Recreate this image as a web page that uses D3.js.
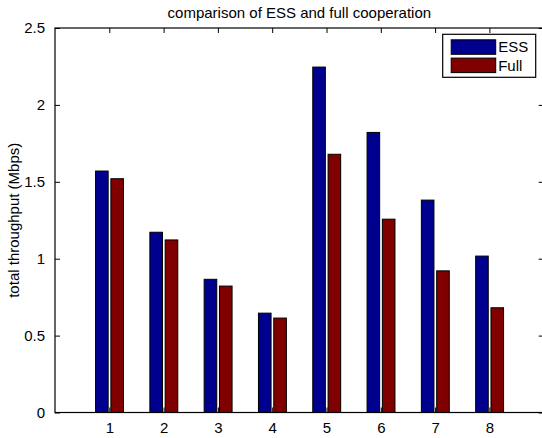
<!DOCTYPE html>
<html>
<head>
<meta charset="utf-8">
<script src="https://cdn.jsdelivr.net/npm/d3@7"></script>
<style>
  body { margin: 0; background: #fff; }
  svg { display: block; font-family: "Liberation Sans", Arial, Helvetica, sans-serif; }
</style>
</head>
<body>
<svg id="chart"></svg>
<script>
const categories = [1, 2, 3, 4, 5, 6, 7, 8];
const essValues = [1.57, 1.172, 0.866, 0.646, 2.246, 1.821, 1.381, 1.017];
const fullValues = [1.52, 1.122, 0.822, 0.614, 1.679, 1.257, 0.921, 0.681];
const yTicks = [0, 0.5, 1, 1.5, 2, 2.5];
const seriesNames = ['ESS', 'Full'];
const seriesColors = ['#00008f', '#800000'];

const WIDTH = 542;
const HEIGHT = 438;
const LEFT = 55;
const RIGHT = 543.7;
const TOP = 28;
const BOTTOM = 412.5;
const TICK = 5;
const BAR_W = 0.232;
const BAR_OFFSETS = [-0.253, 0.029];
const FONT = 15;

const svg = d3.select('#chart')
    .attr('width', WIDTH)
    .attr('height', HEIGHT);

const x = d3.scaleLinear().domain([0, 9]).range([LEFT, RIGHT]);
const y = d3.scaleLinear().domain([0, 2.5]).range([BOTTOM, TOP]);

// bars
const series = [essValues, fullValues];
series.forEach((values, s) => {
    svg.append('g')
        .selectAll('rect')
        .data(values)
        .join('rect')
        .attr('x', (d, i) => x(categories[i] + BAR_OFFSETS[s]))
        .attr('y', d => y(d))
        .attr('width', x(BAR_W) - x(0))
        .attr('height', d => y(0) - y(d))
        .attr('fill', seriesColors[s])
        .attr('stroke', '#000')
        .attr('stroke-width', 1);
});

// axes, ticks pointing inward like matlab
function styleAxis(g) {
    g.select('.domain').remove();
    g.selectAll('.tick line').attr('stroke', '#000');
    g.selectAll('.tick text')
        .attr('fill', '#000')
        .style('font-size', FONT + 'px');
}

svg.append('g')
    .attr('transform', `translate(0,${BOTTOM})`)
    .call(d3.axisBottom(x).tickValues(categories).tickSize(-TICK).tickPadding(10)
        .tickFormat(d3.format('d')))
    .call(styleAxis);

svg.append('g')
    .attr('transform', `translate(0,${TOP})`)
    .call(d3.axisTop(x).tickValues(categories).tickSize(-TICK).tickFormat(''))
    .call(styleAxis);

svg.append('g')
    .attr('transform', `translate(${LEFT},0)`)
    .call(d3.axisLeft(y).tickValues(yTicks).tickSize(-TICK).tickPadding(10)
        .tickFormat(d => String(d)))
    .call(styleAxis);

svg.append('g')
    .attr('transform', `translate(${RIGHT},0)`)
    .call(d3.axisRight(y).tickValues(yTicks).tickSize(-TICK).tickFormat(''))
    .call(styleAxis);

// box
svg.append('rect')
    .attr('x', LEFT)
    .attr('y', TOP)
    .attr('width', RIGHT - LEFT)
    .attr('height', BOTTOM - TOP)
    .attr('fill', 'none')
    .attr('stroke', '#000')
    .attr('stroke-width', 1.2);

// title
svg.append('text')
    .attr('x', (LEFT + RIGHT) / 2)
    .attr('y', 18)
    .attr('text-anchor', 'middle')
    .style('font-size', FONT + 'px')
    .text('comparison of ESS and full cooperation');

// y label
svg.append('text')
    .attr('transform', `translate(19,${(TOP + BOTTOM) / 2}) rotate(-90)`)
    .attr('text-anchor', 'middle')
    .style('font-size', FONT + 'px')
    .text('total throughput (Mbps)');

// legend
const legend = svg.append('g').attr('transform', 'translate(442.7,34.3)');
legend.append('rect')
    .attr('width', 93)
    .attr('height', 43)
    .attr('fill', '#fff')
    .attr('stroke', '#000')
    .attr('stroke-width', 1.2);

seriesNames.forEach((name, i) => {
    const row = legend.append('g').attr('transform', `translate(8.5,${5.5 + i * 18.3})`);
    row.append('rect')
        .attr('width', 44.5)
        .attr('height', 14.5)
        .attr('fill', seriesColors[i])
        .attr('stroke', '#000');
    row.append('text')
        .attr('x', 47)
        .attr('y', 12.5)
        .style('font-size', FONT + 'px')
        .text(name);
});
</script>
</body>
</html>
